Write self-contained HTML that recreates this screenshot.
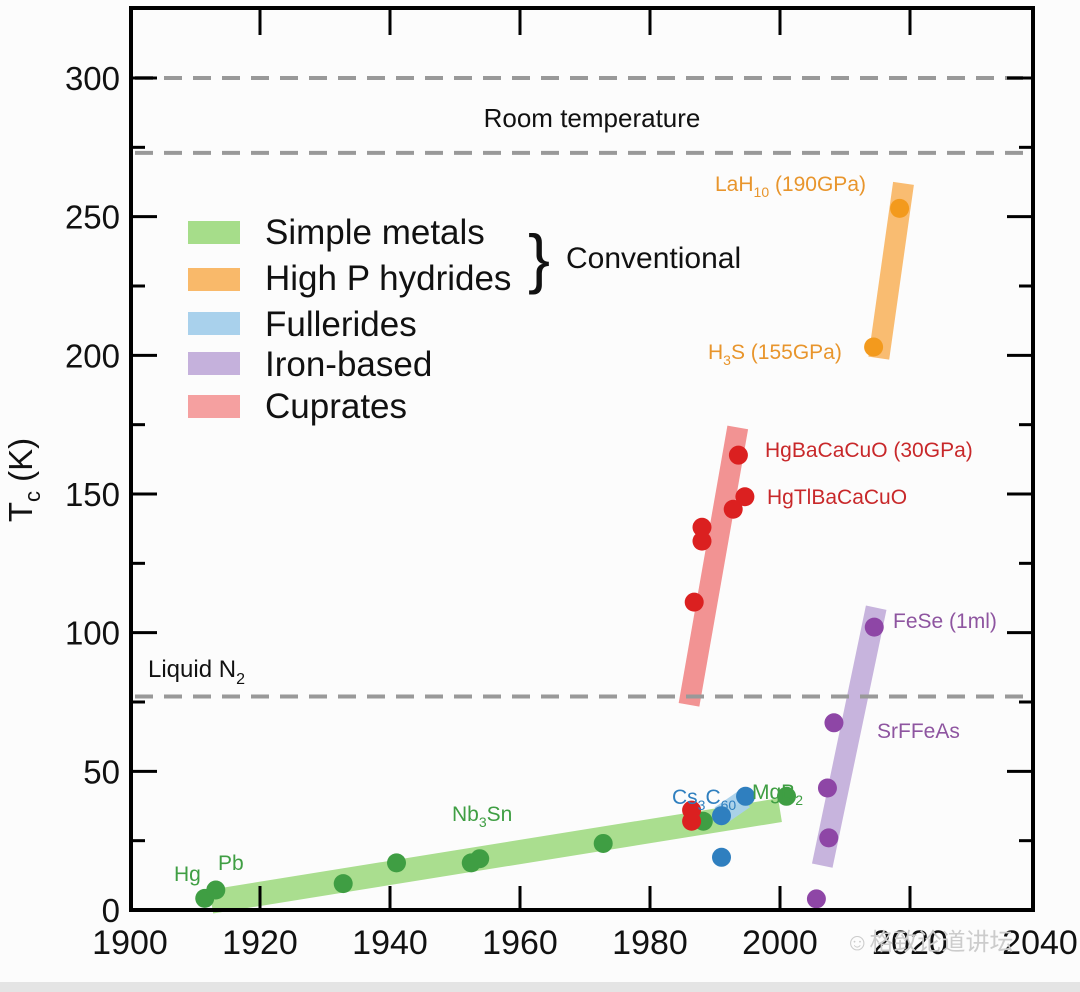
<!DOCTYPE html>
<html><head><meta charset="utf-8"><style>
html,body{margin:0;padding:0;background:#fff;}
svg{display:block;font-family:"Liberation Sans",Arial,sans-serif;}
</style></head><body>
<svg id="chart" width="1080" height="992" viewBox="0 0 1080 992">
<rect x="0" y="0" width="1080" height="992" fill="#fcfcfc"/>
<rect x="0" y="982" width="1080" height="10" fill="#e4e4e4"/>
<g id="bands"></g><g id="points"></g><g id="axes"></g>
</svg>
<script>
const xTicks=[1900,1920,1940,1960,1980,2000,2020,2040];
const yTicks=[0,50,100,150,200,250,300];
const refLines=[300,273,77];
const greenYears=[1911.5,1913.2,1932.8,1941,1952.5,1953.8,1972.8,1988.2,2001];
const greenTc=[4.2,7.2,9.5,17,17,18.5,24,32,41];
const redYears=[1986.4,1986.4,1986.8,1988,1988,1992.8,1993.6,1994.6];
const redTc=[36,32,111,133,138,144.5,164,149];
const blueYears=[1991,1991,1994.7];
const blueTc=[34,19,41];
const purpleYears=[2005.6,2007.5,2007.3,2008.3,2014.5];
const purpleTc=[4,26,44,67.5,102];
const orangeYears=[2014.4,2018.4];
const orangeTc=[203,253];
const bandNames=["green-band","red-band","orange-band","purple-band","blue-band"];
const bandStart=[[1912.5,3],[1986,74],[2015.2,199],[2006.5,16],[1990.8,34]];
const bandEnd=[[2000,36],[1993.5,174],[2019,262],[2014.8,109],[1994.5,40]];
const bandColor=["#a6dd8a","#f28e8e","#f9b96a","#c5b1dc","#a9d1ec"];

const L=131,R=1033,T=8,B=910;
const X=v=>130+(v-1900)*6.5;
const Y=v=>B-v*(832/300);
const NS="http://www.w3.org/2000/svg";
function mk(tag,attrs,parent){const e=document.createElementNS(NS,tag);for(const k in attrs)e.setAttribute(k,attrs[k]);parent.appendChild(e);return e;}
const gb=document.getElementById('bands'),gp=document.getElementById('points'),ga=document.getElementById('axes');

for(let i=0;i<bandNames.length;i++){
  const l=mk('line',{x1:X(bandStart[i][0]),y1:Y(bandStart[i][1]),x2:X(bandEnd[i][0]),y2:Y(bandEnd[i][1]),stroke:bandColor[i],'stroke-width':i===0?24:(i===4?20:21),'stroke-linecap':'butt',opacity:0.95},gb);
  
  
}
refLines.forEach((v,i)=>{
  const l=mk('line',{x1:L+4,x2:R-4,y1:Y(v),y2:Y(v),stroke:'#999','stroke-width':4,'stroke-dasharray':'18 11'},gb);
  
  
});
function dots(xs,ys,col,name){
  for(let i=0;i<xs.length;i++){
    const c=mk('circle',{cx:X(xs[i]),cy:Y(ys[i]),r:9.5,fill:col},gp);
    
    
  }
}
dots(greenYears,greenTc,'#3f9e43','simple-metal');
dots(redYears,redTc,'#db2020','cuprate');
dots(blueYears,blueTc,'#2f7fbf','fulleride');
dots(purpleYears,purpleTc,'#8e46a6','iron-based');
dots(orangeYears,orangeTc,'#f39a1d','hydride');

const fr=mk('rect',{x:L,y:T,width:R-L,height:B-T,fill:'none',stroke:'#000','stroke-width':4},ga);


xTicks.forEach(v=>{
  if(v>1900&&v<2040){
    const t1=mk('line',{x1:X(v),x2:X(v),y1:B,y2:B-24,stroke:'#000','stroke-width':3},ga);
    
    
    const t2=mk('line',{x1:X(v),x2:X(v),y1:T,y2:T+27,stroke:'#000','stroke-width':3},ga);
    
    
  }
  const tx=mk('text',{x:X(v),y:954,'font-size':34,'text-anchor':'middle',fill:'#111'},ga);
  tx.textContent=v;
  
  
});
for(let v=25;v<=300;v+=25){
  const major=v%50===0,len=major?26:14;
  const a=mk('line',{x1:L,x2:L+len,y1:Y(v),y2:Y(v),stroke:'#000','stroke-width':3},ga);
  
  
  const b=mk('line',{x1:R,x2:R-len,y1:Y(v),y2:Y(v),stroke:'#000','stroke-width':3},ga);
  
  
}
yTicks.forEach(v=>{
  const tx=mk('text',{x:120,y:Y(v)+12,'font-size':33,'text-anchor':'end',fill:'#111'},ga);
  tx.textContent=v;
  
  
});
</script>
<svg width="1080" height="992" style="position:absolute;left:0;top:0">
<g font-family="Liberation Sans, Arial, sans-serif">
<text x="32" y="480" font-size="33" fill="#111" text-anchor="middle" transform="rotate(-90 32 480)">T<tspan font-size="22" dy="8">c</tspan><tspan dy="-8"> (K)</tspan></text>
<text x="592" y="127" font-size="26" fill="#111" text-anchor="middle">Room temperature</text>
<text x="148" y="677" font-size="24" fill="#111">Liquid N<tspan font-size="16" dy="7">2</tspan></text>
<g>
<rect x="188" y="221" width="52" height="23" fill="#a6dd8a"/>
<text x="265" y="244" font-size="35" fill="#111">Simple metals</text>
<rect x="188" y="268" width="52" height="23" fill="#f9b96a"/>
<text x="265" y="290" font-size="35" fill="#111">High P hydrides</text>
<rect x="188" y="312" width="52" height="23" fill="#a9d1ec"/>
<text x="265" y="336" font-size="35" fill="#111">Fullerides</text>
<rect x="188" y="352" width="52" height="23" fill="#c5b1dc"/>
<text x="265" y="376" font-size="35" fill="#111">Iron-based</text>
<rect x="188" y="395" width="52" height="23" fill="#f5a0a0"/>
<text x="265" y="418" font-size="35" fill="#111">Cuprates</text>
<text x="528" y="281" font-size="66" fill="#111">}</text>
<text x="566" y="268" font-size="30" fill="#111">Conventional</text>
</g>
<g font-size="21">
<text x="715" y="191" fill="#e8952c">LaH<tspan font-size="14" dy="6">10</tspan><tspan dy="-6"> (190GPa)</tspan></text>
<text x="708" y="359" fill="#e8952c">H<tspan font-size="14" dy="6">3</tspan><tspan dy="-6">S (155GPa)</tspan></text>
<text x="765" y="457" fill="#c8282a">HgBaCaCuO (30GPa)</text>
<text x="767" y="504" fill="#c8282a">HgTlBaCaCuO</text>
<text x="893" y="628" fill="#8e55a0">FeSe (1ml)</text>
<text x="877" y="738" fill="#8e55a0">SrFFeAs</text>
<text x="752" y="799" fill="#3f9e43">MgB<tspan font-size="14" dy="6">2</tspan></text>
<text x="672" y="804" fill="#2f7fbf">Cs<tspan font-size="14" dy="6">3</tspan><tspan dy="-6">C</tspan><tspan font-size="14" dy="6">60</tspan></text>
<text x="452" y="821" fill="#3f9e43">Nb<tspan font-size="14" dy="6">3</tspan><tspan dy="-6">Sn</tspan></text>
<text x="174" y="881" fill="#3f9e43">Hg</text>
<text x="218" y="870" fill="#3f9e43">Pb</text>
</g>
<text x="845" y="950" font-size="24" fill="#ccc" font-family="Liberation Sans, Noto Sans CJK SC, sans-serif">☺格致论道讲坛</text>
</g>
</svg>
</body></html>
